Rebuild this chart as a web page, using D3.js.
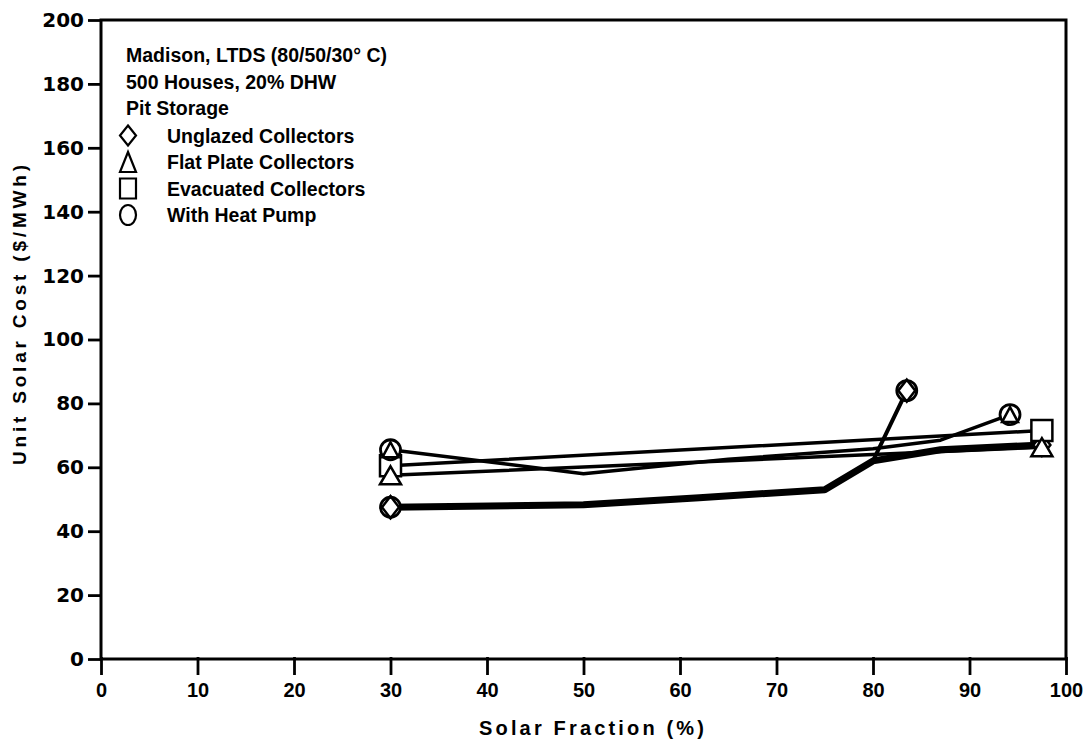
<!DOCTYPE html>
<html>
<head>
<meta charset="utf-8">
<script src="https://cdn.jsdelivr.net/npm/d3@7"></script>
<style>
  html, body { margin: 0; padding: 0; background: #fff; }
  svg { display: block; }
</style>
</head>
<body>
<svg id="chart" width="1084" height="747"></svg>
<script>
// ---------------- DATA ----------------
const xTicks = [0, 10, 20, 30, 40, 50, 60, 70, 80, 90, 100];
const yTicks = [0, 20, 40, 60, 80, 100, 120, 140, 160, 180, 200];
const xTitle = "Solar Fraction (%)";
const yTitle = "Unit Solar Cost ($/MWh)";
const headerLines = ["Madison, LTDS (80/50/30° C)", "500 Houses, 20% DHW", "Pit Storage"];
const legendLabels = ["Unglazed Collectors", "Flat Plate Collectors", "Evacuated Collectors", "With Heat Pump"];
const legendSymbols = ["diamond", "triangle", "square", "circle"];

// Unglazed collectors (no heat pump)
const unglazedX = [30, 50, 62, 75, 80, 87, 97.5];
const unglazedY = [47.5, 48.3, 50.5, 53, 62, 65.5, 67];
// Unglazed collectors with heat pump
const unglazedHPX = [30, 50, 62, 75, 80, 83.5];
const unglazedHPY = [47.5, 48.3, 50.5, 53, 62, 84];
// Flat plate collectors
const flatX = [30, 97.5];
const flatY = [57.5, 66.3];
// Flat plate collectors with heat pump
const flatHPX = [30, 50, 65, 80, 87, 94.2];
const flatHPY = [65.5, 58, 62.5, 65.8, 68.5, 76.5];
// Evacuated collectors
const evacX = [30, 97.5];
const evacY = [60.5, 71.5];

// ---------------- LAYOUT ----------------
const svg = d3.select("#chart");
const pL = 101, pR = 1066, pT = 20, pB = 659;
const x = d3.scaleLinear().domain([0, 100]).range([pL, pR]);
const y = d3.scaleLinear().domain([0, 200]).range([pB, pT]);

// drawing order: unglazed first so the other markers sit on top of it
const series = [
  { name: "unglazed", xs: unglazedX, ys: unglazedY, width: 7, sym: "diamond", hp: false },
  { name: "evac", xs: evacX, ys: evacY, width: 3.5, sym: "square", hp: false },
  { name: "flat", xs: flatX, ys: flatY, width: 3.5, sym: "triangle", hp: false },
  { name: "flatHP", xs: flatHPX, ys: flatHPY, width: 3.5, sym: "triangle", hp: true },
  { name: "unglazedHP", xs: unglazedHPX, ys: unglazedHPY, width: 4, sym: "diamond", hp: true }
];

// axes
const yAxis = d3.axisLeft(y).tickValues(yTicks).tickSize(13).tickPadding(4).tickSizeOuter(0);
const xAxis = d3.axisBottom(x).tickValues(xTicks).tickSize(16).tickPadding(8).tickSizeOuter(0);

const gy = svg.append("g").attr("transform", `translate(${pL},0)`).call(yAxis);
gy.select(".domain").remove();
gy.selectAll(".tick line").attr("stroke", "#000").attr("stroke-width", 2.8);
gy.selectAll(".tick text")
  .attr("fill", "#000")
  .style("font-family", "'DejaVu Sans', sans-serif")
  .style("font-weight", "bold")
  .style("font-size", "20px");

const gx = svg.append("g").attr("transform", `translate(0,${pB})`).call(xAxis);
gx.select(".domain").remove();
gx.selectAll(".tick line").attr("stroke", "#000").attr("stroke-width", 2.8).attr("y1", -2);
gx.selectAll(".tick text")
  .attr("fill", "#000")
  .style("font-family", "'Liberation Sans', Arial, sans-serif")
  .style("font-weight", "bold")
  .style("font-size", "20px");

// frame
svg.append("rect")
  .attr("x", pL).attr("y", pT)
  .attr("width", pR - pL).attr("height", pB - pT)
  .attr("fill", "none").attr("stroke", "#000").attr("stroke-width", 3);

// axis titles
svg.append("text")
  .attr("x", (pL + pR) / 2 + 8).attr("y", 735)
  .attr("text-anchor", "middle")
  .attr("textLength", 225).attr("lengthAdjust", "spacing")
  .style("font-family", "'Liberation Sans', Arial, sans-serif")
  .style("font-weight", "bold").style("font-size", "20px")
  .text(xTitle);

svg.append("text")
  .attr("transform", "translate(26,315) rotate(-90)")
  .attr("text-anchor", "middle")
  .attr("textLength", 300).attr("lengthAdjust", "spacing")
  .style("font-family", "'Liberation Sans', Arial, sans-serif")
  .style("font-weight", "bold").style("font-size", "19px")
  .text(yTitle);

// lines
const line = d3.line().x(d => x(d[0])).y(d => y(d[1]));
const gl = svg.append("g");
series.forEach(s => {
  const pts = s.xs.map((v, i) => [v, s.ys[i]]);
  gl.append("path")
    .datum(pts)
    .attr("d", line)
    .attr("fill", "none")
    .attr("stroke", "#000")
    .attr("stroke-width", s.width)
    .attr("stroke-linejoin", "round")
    .attr("stroke-linecap", "round");
});

// marker drawing
function symPath(type, w, h) {
  if (type === "diamond") return `M0,${-h/2}L${w/2},0L0,${h/2}L${-w/2},0Z`;
  if (type === "triangle") return `M0,${-h/2}L${w/2},${h/2}L${-w/2},${h/2}Z`;
  if (type === "square") return `M${-w/2},${-h/2}H${w/2}V${h/2}H${-w/2}Z`;
  return null;
}
function drawMarker(g, type, cx, cy, w, h, sw) {
  if (type === "circle") {
    g.append("ellipse").attr("cx", cx).attr("cy", cy).attr("rx", w/2).attr("ry", h/2)
      .attr("fill", "#fff").attr("stroke", "#000").attr("stroke-width", sw);
  } else {
    g.append("path").attr("transform", `translate(${cx},${cy})`).attr("d", symPath(type, w, h))
      .attr("fill", "#fff").attr("stroke", "#000").attr("stroke-width", sw).attr("stroke-linejoin", "miter");
  }
}
const symSize = { square: [21, 21], triangle: [21, 18], diamond: [17, 22] };

const gm = svg.append("g");
series.forEach(s => {
  const ends = [0, s.xs.length - 1];
  ends.forEach(i => {
    const cx = x(s.xs[i]), cy = y(s.ys[i]);
    if (s.hp) {
      drawMarker(gm, "circle", cx, cy, 20, 20, 2.8);
      const [w, h] = s.sym === "triangle" ? [16, 15] : [17, 22];
      gm.append("path").attr("transform", `translate(${cx},${cy})`).attr("d", symPath(s.sym, w, h))
        .attr("fill", "none").attr("stroke", "#000").attr("stroke-width", 2.5);
    } else {
      const [w, h] = symSize[s.sym];
      drawMarker(gm, s.sym, cx, cy, w, h, 2.5);
    }
  });
});

// legend
const lg = svg.append("g");
const legendFont = sel => sel
  .style("font-family", "'Liberation Sans', Arial, sans-serif")
  .style("font-weight", "bold").style("font-size", "19.5px")
  .attr("fill", "#000");
headerLines.forEach((t, i) => {
  lg.append("text").attr("x", 126).attr("y", 62 + i * 26.5).text(t).call(legendFont);
});
legendLabels.forEach((t, i) => {
  const by = 62 + (i + 3) * 26.5 + 1;
  lg.append("text").attr("x", 167).attr("y", by).text(t).call(legendFont);
  drawMarker(lg, legendSymbols[i], 128, by - 7, 16, 20, 2.2);
});
</script>
</body>
</html>
